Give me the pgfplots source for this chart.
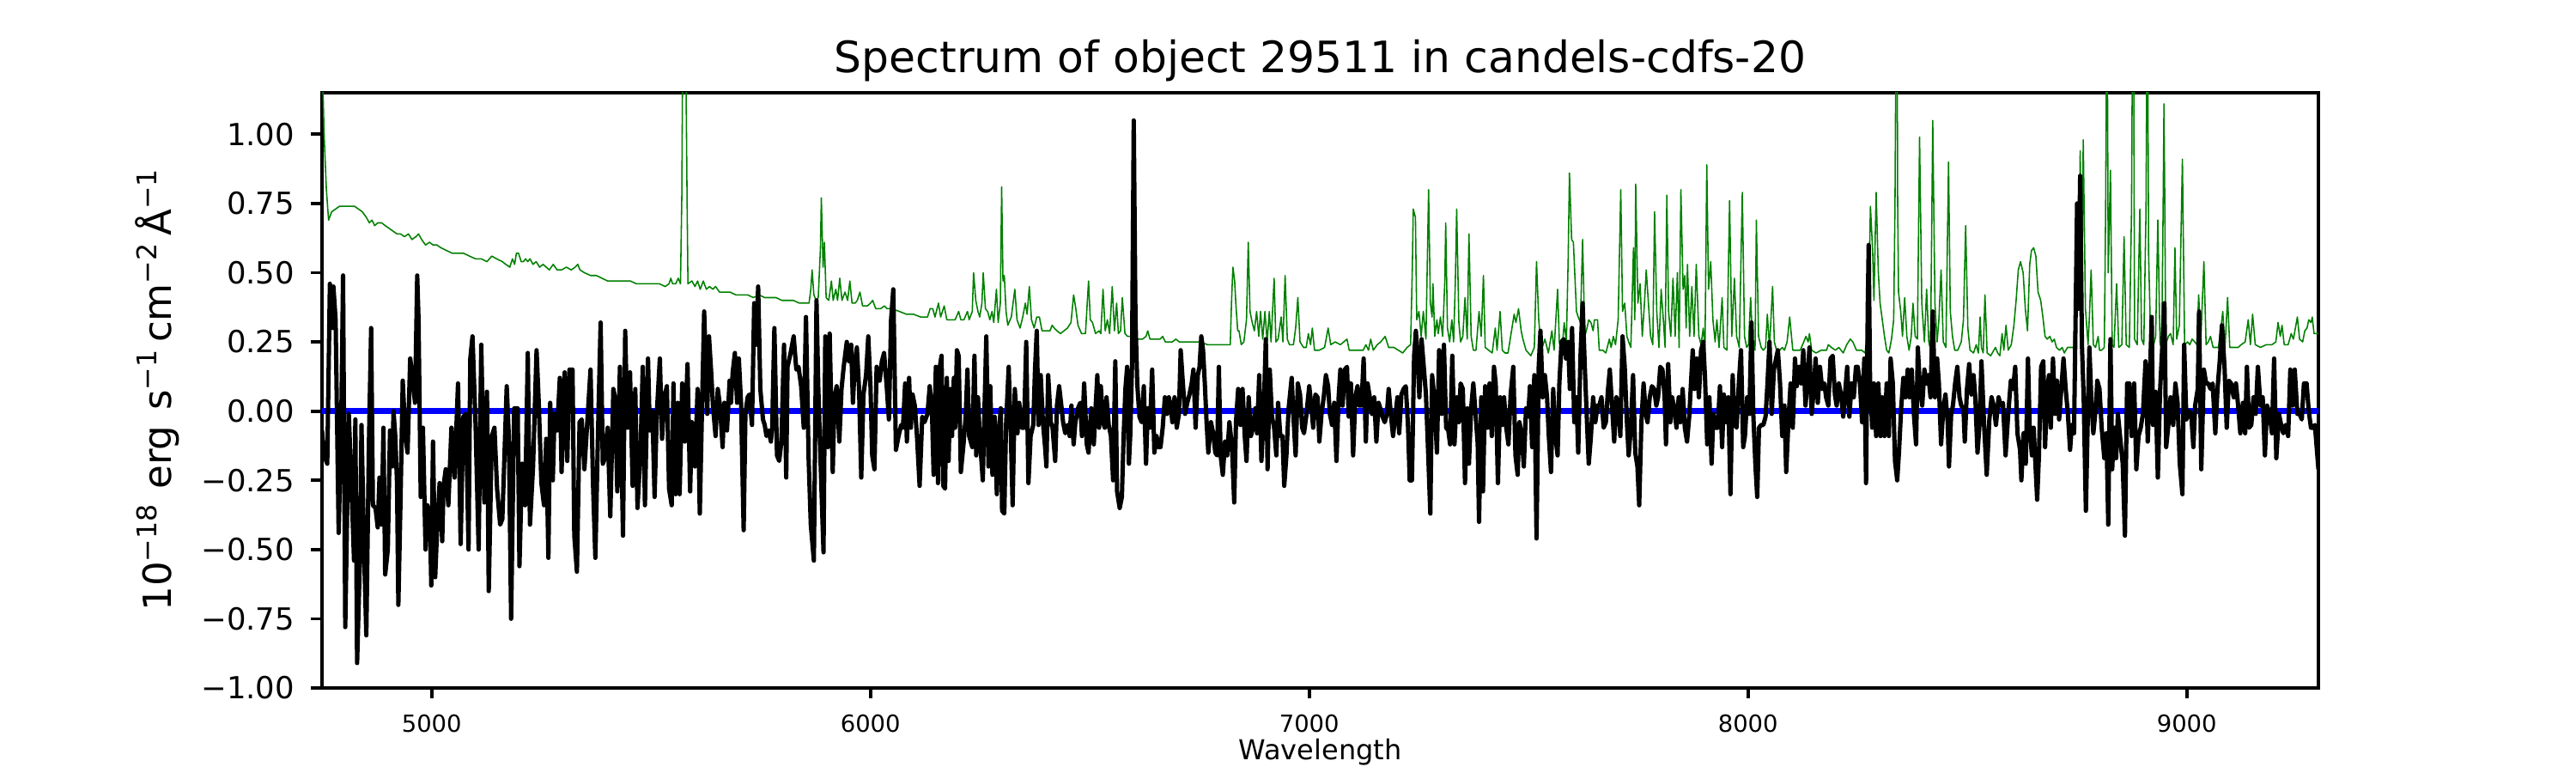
\documentclass[border=0pt]{standalone}
\usepackage{fontspec}
\setmainfont{DejaVu Sans}
\usepackage{pgfplots}
\usepackage{pgfplotstable}
\pgfplotsset{compat=1.18}
\newcommand{\sps}[1]{\raisebox{0.39em}{\fontsize{9.1}{10}\selectfont #1}}

\pgfplotstableread{
x y
4750 -0.07
4755 -0.16
4762 -0.19
4768 0.46
4774 0.30
4776 0.45
4781 0.33
4788 -0.44
4794 -0.03
4798 0.49
4803 -0.78
4811 -0.01
4817 -0.26
4823 -0.54
4826 -0.03
4830 -0.91
4836 -0.56
4840 -0.05
4846 -0.51
4851 -0.81
4857 -0.11
4862 0.30
4866 -0.34
4872 -0.35
4877 -0.42
4881 -0.24
4886 -0.41
4890 -0.06
4894 -0.59
4900 -0.50
4905 -0.07
4910 -0.20
4913 0.00
4917 -0.09
4921 -0.26
4924 -0.70
4929 -0.32
4934 0.11
4940 -0.09
4945 -0.15
4951 0.19
4955 0.14
4962 0.03
4967 0.49
4970 0.33
4975 -0.31
4980 -0.06
4986 -0.50
4990 -0.34
4996 -0.38
4999 -0.63
5003 -0.11
5008 -0.60
5012 -0.44
5018 -0.26
5024 -0.47
5027 -0.27
5032 -0.21
5038 -0.34
5045 -0.06
5052 -0.24
5060 0.10
5066 -0.48
5072 -0.02
5078 -0.01
5084 -0.50
5088 0.19
5093 0.27
5100 -0.05
5107 -0.50
5113 0.24
5120 -0.33
5126 0.07
5130 -0.65
5137 -0.09
5143 -0.06
5149 -0.28
5156 -0.41
5161 -0.39
5165 -0.20
5171 0.09
5176 -0.10
5181 -0.75
5188 0.01
5196 0.01
5200 -0.56
5206 -0.19
5213 -0.34
5219 0.21
5224 -0.41
5231 -0.20
5239 0.22
5244 0.03
5250 -0.26
5256 -0.34
5261 -0.10
5266 -0.53
5270 0.03
5276 -0.25
5280 -0.01
5286 -0.07
5292 0.12
5296 -0.22
5303 0.14
5309 -0.18
5314 0.15
5321 0.15
5325 -0.45
5331 -0.58
5337 -0.04
5342 -0.03
5348 -0.21
5355 -0.03
5362 0.15
5368 -0.28
5373 -0.53
5379 -0.08
5385 0.32
5390 -0.19
5395 -0.17
5401 -0.06
5407 -0.38
5414 0.08
5418 0.05
5423 -0.29
5429 0.16
5436 -0.45
5441 0.29
5446 -0.06
5452 0.14
5458 -0.27
5464 0.08
5469 -0.35
5476 -0.14
5481 0.16
5486 -0.34
5493 0.19
5497 -0.07
5503 0.00
5508 -0.31
5513 -0.01
5520 0.19
5525 -0.10
5530 0.05
5536 0.09
5541 -0.28
5547 -0.34
5551 0.10
5556 -0.30
5561 0.03
5565 -0.30
5571 0.10
5577 -0.11
5583 0.17
5589 -0.29
5593 -0.04
5600 -0.20
5606 0.08
5611 -0.37
5617 0.08
5621 0.36
5628 -0.01
5632 0.27
5637 0.14
5641 0.02
5647 -0.09
5652 0.08
5657 0.02
5663 -0.13
5667 0.03
5673 -0.07
5679 0.11
5682 0.03
5686 0.14
5691 0.21
5696 0.03
5700 0.19
5705 0.03
5711 -0.43
5715 -0.01
5720 0.05
5724 0.06
5730 -0.05
5735 0.39
5740 0.24
5744 0.45
5749 0.08
5755 -0.03
5759 -0.05
5763 -0.09
5768 -0.07
5773 -0.11
5776 -0.06
5781 0.30
5787 -0.16
5792 -0.18
5797 -0.11
5803 0.24
5808 -0.24
5811 0.16
5818 0.21
5825 0.27
5831 0.15
5836 0.16
5842 0.09
5848 -0.06
5853 0.34
5859 -0.17
5864 -0.41
5871 -0.54
5877 0.40
5881 0.09
5886 -0.17
5893 -0.51
5897 0.27
5903 -0.13
5907 0.28
5914 -0.22
5918 0.05
5923 0.09
5929 -0.11
5934 0.08
5939 0.16
5946 0.25
5951 0.18
5956 0.24
5960 0.03
5964 0.16
5969 0.23
5974 0.08
5979 -0.24
5984 0.06
5990 0.13
5995 0.27
6000 0.09
6004 -0.16
6009 -0.21
6014 0.16
6021 0.11
6026 0.18
6031 0.21
6037 0.09
6042 -0.03
6047 0.33
6052 0.44
6058 -0.14
6064 -0.09
6070 -0.05
6074 -0.06
6079 0.10
6083 -0.11
6088 0.12
6092 -0.06
6096 0.06
6101 0.02
6106 -0.09
6112 -0.27
6118 -0.02
6123 -0.04
6130 -0.01
6135 0.09
6140 0.01
6144 -0.23
6149 0.16
6154 -0.26
6158 0.16
6162 0.20
6166 -0.27
6170 -0.28
6174 0.12
6178 -0.18
6182 0.08
6186 -0.09
6190 0.12
6193 -0.06
6197 0.22
6201 0.20
6206 -0.22
6212 -0.12
6217 -0.02
6221 0.15
6225 -0.09
6232 -0.13
6237 0.20
6241 -0.16
6245 0.05
6249 -0.09
6256 -0.25
6259 -0.05
6264 0.27
6269 -0.20
6273 0.09
6278 -0.23
6283 -0.02
6288 -0.30
6292 -0.09
6297 0.01
6300 -0.36
6305 -0.37
6309 -0.05
6315 0.16
6320 -0.09
6324 -0.34
6329 0.08
6335 -0.08
6339 0.03
6345 -0.06
6350 -0.06
6355 0.25
6360 -0.26
6365 -0.09
6371 -0.05
6375 0.15
6379 0.29
6383 -0.05
6388 0.13
6393 -0.04
6398 -0.13
6401 -0.20
6405 0.13
6411 -0.04
6415 -0.06
6421 -0.18
6425 0.02
6430 0.09
6435 0.02
6439 -0.04
6444 -0.08
6449 -0.05
6454 -0.09
6458 0.02
6463 -0.12
6467 -0.04
6473 0.01
6478 0.03
6482 -0.09
6487 0.10
6493 -0.12
6497 -0.15
6503 0.01
6509 -0.12
6513 0.01
6517 0.13
6521 -0.06
6525 0.09
6530 -0.04
6534 -0.06
6538 0.05
6543 -0.05
6548 -0.09
6553 -0.25
6558 0.18
6562 -0.29
6568 -0.35
6573 -0.31
6577 -0.09
6581 0.08
6585 0.16
6589 -0.19
6592 -0.09
6596 0.16
6600 1.05
6604 0.33
6608 0.10
6613 -0.02
6618 -0.04
6623 0.09
6628 -0.19
6632 0.01
6637 -0.06
6642 0.15
6647 -0.15
6652 -0.09
6656 -0.13
6661 -0.13
6666 -0.06
6671 0.05
6676 -0.01
6680 0.05
6685 0.01
6688 -0.04
6693 0.05
6698 -0.06
6703 -0.01
6707 0.22
6712 0.10
6717 -0.01
6722 0.03
6727 0.06
6732 0.10
6736 0.15
6741 -0.06
6746 0.13
6750 0.16
6754 0.27
6758 0.22
6762 0.10
6766 -0.04
6770 -0.15
6776 -0.04
6781 -0.08
6786 -0.15
6790 -0.16
6794 0.16
6798 -0.16
6803 -0.23
6808 -0.11
6813 -0.16
6818 -0.04
6824 -0.13
6829 -0.33
6833 -0.04
6838 0.08
6843 -0.05
6848 0.08
6853 -0.09
6857 -0.18
6862 0.05
6867 -0.09
6872 -0.06
6877 0.01
6881 -0.08
6886 0.13
6891 -0.18
6896 -0.02
6901 0.26
6905 -0.21
6910 0.15
6915 -0.02
6920 -0.06
6925 -0.16
6929 0.03
6934 -0.09
6939 -0.09
6943 -0.27
6948 -0.16
6953 0.01
6960 0.12
6964 -0.02
6969 -0.16
6974 0.10
6979 0.06
6984 -0.06
6988 -0.08
6993 -0.02
7000 0.09
7004 0.03
7009 -0.06
7014 0.06
7019 0.05
7023 -0.11
7028 -0.01
7033 0.05
7038 0.13
7043 0.09
7047 -0.01
7052 -0.05
7057 0.03
7062 -0.18
7067 0.05
7071 0.15
7076 0.02
7081 0.15
7086 0.16
7090 -0.02
7095 0.10
7100 -0.16
7105 0.05
7110 0.09
7114 0.02
7119 0.02
7124 0.19
7129 -0.11
7133 0.10
7138 0.05
7143 -0.01
7148 0.05
7153 -0.11
7158 0.03
7162 0.01
7167 -0.02
7172 -0.04
7177 -0.01
7181 0.08
7186 -0.01
7191 -0.09
7196 -0.02
7201 0.05
7205 -0.08
7210 0.06
7215 0.08
7220 0.09
7225 -0.05
7229 -0.25
7234 -0.25
7239 0.20
7243 0.29
7247 0.19
7251 0.05
7256 0.26
7261 0.16
7266 0.06
7271 -0.15
7276 -0.37
7280 0.13
7285 0.05
7291 -0.15
7296 0.22
7302 -0.01
7307 0.24
7312 -0.06
7317 -0.07
7321 -0.12
7326 0.20
7331 -0.12
7336 0.05
7341 -0.04
7345 0.10
7350 0.08
7355 -0.26
7360 0.01
7364 -0.19
7369 0.01
7374 0.10
7379 -0.01
7384 -0.12
7387 -0.40
7392 0.05
7396 -0.29
7401 0.09
7406 -0.06
7411 0.10
7416 -0.09
7421 0.16
7425 0.10
7430 -0.26
7435 0.05
7440 -0.05
7444 0.05
7449 -0.06
7454 -0.12
7459 0.06
7465 0.16
7470 -0.16
7475 -0.23
7479 -0.04
7484 -0.08
7489 -0.20
7494 0.01
7499 -0.02
7503 0.09
7508 -0.13
7513 0.13
7518 -0.46
7523 0.16
7527 0.29
7532 0.05
7537 0.13
7542 0.05
7546 -0.09
7551 -0.22
7556 0.08
7561 -0.09
7566 -0.16
7570 0.10
7575 0.25
7580 0.26
7585 0.19
7590 0.25
7594 0.08
7599 0.30
7604 -0.04
7609 0.05
7613 -0.15
7618 0.19
7623 0.39
7628 0.16
7633 -0.04
7637 -0.19
7642 -0.09
7647 0.05
7652 -0.04
7657 0.02
7661 0.02
7666 0.05
7671 -0.06
7676 -0.04
7681 0.08
7685 0.15
7690 0.02
7695 -0.11
7700 0.05
7704 0.03
7709 -0.09
7714 0.27
7719 0.16
7724 -0.04
7728 -0.16
7733 -0.06
7738 0.13
7743 -0.15
7748 -0.20
7752 -0.34
7757 -0.04
7762 0.10
7767 -0.01
7771 -0.04
7776 0.05
7781 0.09
7786 0.08
7791 0.02
7795 0.05
7800 0.16
7805 0.15
7810 0.05
7813 -0.12
7818 0.17
7823 -0.04
7827 0.05
7832 0.01
7837 -0.06
7842 0.05
7846 -0.04
7851 0.08
7856 -0.06
7861 -0.11
7866 -0.02
7870 0.10
7874 0.22
7878 0.08
7883 0.19
7888 0.05
7893 0.22
7898 0.25
7902 0.12
7907 -0.12
7912 0.05
7917 -0.19
7921 -0.01
7926 -0.06
7931 -0.06
7936 0.09
7941 -0.13
7945 0.06
7950 -0.04
7955 0.05
7960 -0.30
7965 0.13
7969 -0.04
7974 -0.06
7979 0.10
7984 0.22
7989 -0.13
7993 -0.09
7998 0.05
8003 -0.01
8008 0.32
8012 -0.01
8017 -0.20
8021 -0.31
8025 -0.06
8030 -0.05
8035 -0.05
8040 -0.02
8044 0.09
8049 0.25
8054 -0.01
8059 0.15
8064 0.19
8068 0.22
8073 0.10
8078 -0.09
8083 0.02
8087 -0.22
8092 -0.04
8097 0.10
8102 -0.06
8107 0.19
8111 0.09
8116 0.16
8121 0.10
8126 0.22
8131 0.02
8135 0.10
8140 0.23
8145 -0.01
8150 0.08
8154 0.19
8159 0.03
8164 0.16
8169 0.08
8174 0.10
8178 0.05
8183 0.02
8188 0.19
8193 0.20
8198 0.06
8202 0.02
8207 0.10
8212 0.06
8217 -0.02
8222 0.08
8226 0.16
8231 -0.02
8236 0.10
8241 0.05
8246 0.16
8250 0.16
8255 0.10
8260 -0.04
8265 0.19
8269 -0.26
8273 0.39
8275 0.60
8278 0.12
8283 -0.06
8287 0.10
8292 -0.09
8297 0.10
8302 -0.09
8306 0.05
8311 -0.09
8316 0.10
8321 -0.09
8325 0.19
8330 0.10
8335 -0.18
8340 -0.25
8344 -0.15
8349 0.01
8354 0.12
8359 0.05
8364 0.15
8368 0.05
8373 0.15
8378 -0.01
8383 -0.12
8387 0.23
8392 0.08
8397 0.02
8402 0.15
8407 0.10
8411 0.13
8416 0.05
8421 0.36
8426 0.05
8431 0.19
8435 0.10
8440 -0.12
8445 0.01
8450 0.06
8455 -0.04
8458 -0.20
8463 -0.01
8467 0.02
8472 0.10
8477 0.16
8482 0.05
8486 0.02
8491 0.01
8494 -0.11
8499 0.08
8504 0.17
8509 0.06
8514 0.13
8518 0.05
8523 -0.15
8528 -0.04
8532 0.18
8538 -0.05
8544 -0.23
8550 -0.03
8555 0.05
8560 0.02
8565 -0.05
8571 0.05
8576 0.02
8581 0.03
8587 -0.16
8593 -0.01
8599 0.11
8604 0.08
8609 0.16
8614 -0.08
8620 -0.14
8623 -0.25
8628 -0.08
8633 -0.19
8638 0.19
8642 -0.06
8647 -0.16
8651 -0.06
8655 -0.19
8659 -0.32
8663 -0.16
8668 0.16
8673 0.18
8677 -0.13
8682 0.08
8686 0.13
8690 -0.06
8695 0.19
8700 -0.01
8704 0.11
8709 -0.03
8714 0.08
8719 0.19
8724 0.08
8729 -0.01
8734 -0.14
8738 -0.05
8743 -0.08
8747 0.39
8750 0.75
8753 0.37
8757 0.85
8761 0.24
8765 0.05
8770 -0.36
8774 -0.05
8778 0.23
8783 0.02
8787 -0.08
8793 0.02
8796 0.11
8801 0.08
8806 -0.06
8812 -0.17
8817 -0.08
8821 -0.41
8826 0.26
8830 -0.21
8834 -0.06
8839 -0.17
8843 -0.01
8849 -0.11
8854 -0.19
8859 -0.45
8864 0.10
8869 0.10
8874 -0.09
8880 0.10
8885 -0.21
8890 -0.09
8895 -0.06
8900 -0.01
8906 0.18
8911 -0.11
8915 0.07
8920 0.34
8923 -0.05
8929 0.07
8934 -0.24
8939 0.07
8944 0.23
8949 0.39
8953 -0.13
8958 -0.05
8963 0.05
8969 -0.05
8974 0.10
8979 0.03
8984 -0.19
8990 -0.30
8994 0.24
8999 -0.03
9005 0.00
9010 -0.01
9015 -0.13
9019 0.02
9025 0.08
9028 0.36
9033 -0.21
9039 0.15
9044 0.10
9049 0.10
9054 0.08
9059 0.10
9065 -0.08
9070 0.08
9075 0.18
9080 0.31
9086 0.16
9091 -0.06
9096 0.11
9101 0.10
9107 0.05
9112 0.10
9117 0.02
9122 -0.08
9128 0.03
9133 -0.08
9137 0.16
9142 -0.06
9147 -0.05
9152 0.05
9157 -0.01
9162 0.16
9168 0.02
9173 0.05
9178 -0.16
9183 0.02
9189 -0.01
9194 -0.08
9199 0.19
9204 -0.17
9210 -0.01
9215 -0.05
9220 -0.08
9225 -0.05
9231 -0.09
9236 0.15
9241 0.02
9246 0.15
9252 -0.01
9257 -0.01
9262 -0.03
9267 0.10
9273 0.10
9278 0.00
9283 -0.06
9288 -0.06
9292 -0.05
9300 -0.21
}\fluxtable

\pgfplotstableread{
x y
4750 1.30
4755 0.99
4760 0.80
4765 0.69
4772 0.72
4781 0.73
4790 0.74
4798 0.74
4807 0.74
4816 0.74
4824 0.74
4833 0.73
4842 0.72
4851 0.70
4858 0.68
4864 0.69
4870 0.67
4877 0.68
4886 0.68
4894 0.67
4903 0.66
4912 0.65
4921 0.64
4929 0.64
4938 0.63
4947 0.64
4955 0.62
4964 0.63
4970 0.64
4977 0.62
4986 0.60
4995 0.61
5003 0.60
5012 0.60
5021 0.59
5034 0.58
5047 0.57
5060 0.57
5073 0.57
5086 0.56
5100 0.55
5113 0.55
5126 0.54
5137 0.56
5148 0.55
5161 0.54
5169 0.53
5178 0.52
5184 0.55
5189 0.53
5193 0.57
5198 0.57
5204 0.54
5209 0.54
5214 0.55
5219 0.54
5224 0.55
5231 0.53
5238 0.54
5246 0.52
5254 0.53
5261 0.52
5268 0.51
5277 0.53
5286 0.51
5296 0.51
5307 0.52
5318 0.51
5327 0.52
5333 0.53
5338 0.51
5348 0.50
5362 0.49
5375 0.49
5388 0.48
5401 0.47
5414 0.47
5427 0.47
5440 0.47
5453 0.47
5466 0.46
5479 0.46
5493 0.46
5506 0.46
5519 0.46
5532 0.45
5541 0.46
5545 0.48
5549 0.46
5556 0.46
5562 0.48
5567 0.46
5570 0.77
5572 1.30
5579 1.30
5582 0.77
5584 0.46
5593 0.47
5600 0.45
5606 0.47
5612 0.44
5619 0.47
5626 0.44
5633 0.45
5641 0.44
5647 0.45
5656 0.43
5667 0.43
5680 0.43
5693 0.42
5707 0.42
5720 0.42
5733 0.41
5746 0.42
5759 0.41
5772 0.41
5785 0.41
5798 0.40
5811 0.40
5824 0.40
5838 0.39
5851 0.39
5860 0.39
5864 0.44
5867 0.51
5871 0.42
5876 0.40
5881 0.41
5886 0.59
5888 0.77
5892 0.52
5895 0.61
5899 0.41
5905 0.40
5911 0.47
5915 0.40
5921 0.44
5925 0.40
5930 0.48
5935 0.40
5942 0.43
5948 0.40
5953 0.47
5958 0.39
5965 0.39
5970 0.40
5976 0.43
5982 0.38
5993 0.38
6000 0.39
6005 0.40
6012 0.37
6023 0.37
6032 0.38
6038 0.37
6049 0.37
6066 0.36
6082 0.35
6098 0.35
6114 0.34
6130 0.34
6136 0.37
6142 0.37
6147 0.34
6155 0.39
6160 0.34
6168 0.38
6174 0.33
6185 0.33
6193 0.33
6201 0.36
6206 0.33
6213 0.33
6221 0.36
6225 0.33
6232 0.36
6235 0.50
6240 0.40
6245 0.36
6249 0.34
6254 0.39
6257 0.50
6262 0.37
6267 0.36
6272 0.33
6277 0.36
6281 0.32
6287 0.44
6291 0.32
6296 0.39
6299 0.81
6302 0.47
6305 0.49
6309 0.36
6313 0.31
6321 0.34
6329 0.44
6334 0.33
6341 0.30
6347 0.34
6353 0.39
6357 0.35
6362 0.45
6367 0.33
6373 0.30
6379 0.34
6385 0.34
6391 0.29
6401 0.29
6409 0.29
6414 0.31
6419 0.30
6425 0.29
6433 0.28
6441 0.29
6449 0.30
6457 0.32
6463 0.42
6468 0.37
6473 0.31
6481 0.28
6490 0.28
6497 0.47
6501 0.33
6506 0.32
6513 0.28
6521 0.29
6525 0.28
6530 0.44
6535 0.29
6540 0.33
6545 0.28
6551 0.45
6556 0.29
6561 0.39
6565 0.28
6570 0.29
6574 0.41
6580 0.28
6586 0.27
6594 0.27
6608 0.26
6620 0.26
6628 0.27
6632 0.29
6637 0.26
6648 0.26
6660 0.26
6666 0.27
6672 0.25
6688 0.25
6696 0.26
6704 0.25
6720 0.25
6736 0.25
6752 0.25
6768 0.24
6784 0.24
6804 0.24
6820 0.24
6823 0.40
6826 0.52
6830 0.47
6833 0.38
6837 0.29
6840 0.29
6845 0.24
6851 0.25
6857 0.33
6861 0.61
6865 0.36
6870 0.32
6875 0.29
6880 0.36
6885 0.27
6889 0.36
6894 0.26
6899 0.36
6904 0.25
6909 0.36
6913 0.25
6920 0.48
6924 0.25
6929 0.26
6936 0.34
6940 0.25
6945 0.49
6950 0.26
6955 0.24
6964 0.24
6969 0.30
6974 0.41
6979 0.25
6987 0.23
6993 0.23
6998 0.28
7003 0.24
7007 0.30
7012 0.22
7023 0.22
7035 0.23
7043 0.30
7049 0.24
7059 0.25
7071 0.24
7086 0.26
7091 0.22
7103 0.22
7115 0.22
7123 0.22
7129 0.24
7135 0.22
7140 0.26
7146 0.22
7155 0.24
7163 0.25
7173 0.27
7181 0.23
7193 0.23
7203 0.22
7213 0.21
7223 0.23
7231 0.24
7235 0.52
7237 0.73
7242 0.70
7245 0.33
7250 0.36
7255 0.27
7260 0.36
7266 0.26
7272 0.80
7276 0.39
7280 0.34
7282 0.46
7286 0.27
7291 0.33
7294 0.28
7299 0.34
7304 0.27
7309 0.47
7311 0.68
7315 0.30
7320 0.25
7325 0.33
7329 0.25
7333 0.47
7336 0.73
7341 0.32
7345 0.25
7350 0.27
7355 0.41
7360 0.26
7364 0.64
7369 0.27
7374 0.22
7380 0.22
7387 0.36
7392 0.27
7397 0.49
7401 0.23
7409 0.22
7417 0.21
7424 0.30
7428 0.22
7435 0.36
7440 0.22
7446 0.21
7453 0.21
7461 0.29
7467 0.35
7471 0.32
7477 0.37
7483 0.29
7487 0.26
7494 0.22
7505 0.20
7513 0.23
7518 0.54
7523 0.33
7529 0.22
7537 0.26
7545 0.21
7553 0.29
7558 0.22
7566 0.44
7570 0.25
7575 0.20
7581 0.32
7586 0.25
7590 0.54
7593 0.86
7598 0.62
7602 0.61
7609 0.36
7613 0.34
7618 0.32
7623 0.62
7628 0.27
7633 0.30
7637 0.33
7642 0.32
7647 0.29
7650 0.33
7657 0.33
7661 0.22
7669 0.22
7676 0.21
7684 0.26
7688 0.23
7693 0.27
7698 0.24
7704 0.33
7710 0.80
7714 0.36
7719 0.39
7724 0.27
7728 0.25
7733 0.23
7739 0.59
7742 0.33
7744 0.82
7749 0.39
7754 0.46
7759 0.27
7764 0.39
7768 0.51
7773 0.39
7778 0.27
7783 0.24
7787 0.72
7792 0.36
7797 0.23
7802 0.44
7807 0.33
7811 0.23
7815 0.78
7819 0.36
7824 0.27
7829 0.48
7834 0.27
7839 0.50
7843 0.23
7847 0.80
7852 0.44
7856 0.49
7859 0.30
7862 0.53
7867 0.27
7872 0.45
7877 0.27
7882 0.53
7888 0.27
7893 0.24
7898 0.30
7902 0.23
7906 0.89
7910 0.44
7915 0.54
7920 0.33
7925 0.25
7929 0.33
7934 0.23
7941 0.41
7945 0.23
7952 0.22
7958 0.76
7963 0.27
7969 0.48
7974 0.27
7980 0.23
7987 0.79
7992 0.27
7997 0.23
8001 0.24
8006 0.41
8011 0.23
8016 0.22
8019 0.69
8024 0.27
8030 0.23
8035 0.22
8040 0.23
8044 0.35
8049 0.23
8056 0.45
8060 0.25
8065 0.22
8072 0.22
8078 0.23
8083 0.22
8089 0.25
8095 0.34
8102 0.22
8111 0.22
8119 0.22
8127 0.25
8132 0.27
8137 0.25
8140 0.28
8145 0.22
8155 0.21
8167 0.22
8179 0.22
8183 0.24
8190 0.23
8199 0.22
8207 0.23
8217 0.21
8225 0.24
8233 0.26
8239 0.25
8247 0.22
8259 0.22
8267 0.21
8274 0.33
8279 0.74
8284 0.58
8287 0.40
8292 0.79
8297 0.50
8301 0.39
8306 0.33
8311 0.27
8316 0.22
8321 0.21
8327 0.26
8332 0.33
8335 0.75
8337 1.30
8340 1.30
8341 0.75
8343 0.43
8348 0.36
8352 0.27
8357 0.41
8362 0.27
8367 0.22
8372 0.27
8376 0.39
8381 0.27
8386 0.26
8391 0.99
8396 0.39
8402 0.25
8407 0.44
8412 0.25
8416 0.22
8421 1.05
8426 0.39
8431 0.25
8435 0.33
8440 0.51
8445 0.25
8451 0.23
8457 0.90
8461 0.36
8466 0.27
8471 0.22
8478 0.22
8486 0.25
8491 0.33
8496 0.67
8501 0.30
8506 0.22
8514 0.21
8520 0.24
8525 0.21
8529 0.34
8532 0.23
8536 0.21
8540 0.42
8545 0.21
8553 0.20
8564 0.23
8569 0.21
8574 0.20
8579 0.28
8583 0.22
8588 0.31
8593 0.22
8600 0.24
8606 0.31
8611 0.40
8616 0.51
8621 0.54
8627 0.50
8632 0.37
8637 0.29
8642 0.53
8646 0.58
8651 0.59
8656 0.56
8661 0.43
8667 0.40
8672 0.34
8677 0.27
8682 0.26
8688 0.27
8693 0.25
8698 0.26
8703 0.23
8710 0.22
8716 0.23
8721 0.21
8728 0.23
8735 0.23
8742 0.23
8747 0.40
8752 0.75
8755 0.48
8757 0.94
8761 0.40
8764 0.98
8769 0.37
8775 0.24
8778 0.34
8782 0.51
8787 0.24
8792 0.23
8798 0.27
8801 0.22
8806 0.22
8812 0.23
8815 0.72
8817 1.30
8819 1.30
8821 0.50
8824 0.72
8826 0.87
8830 0.24
8834 0.23
8840 0.46
8845 0.23
8852 0.24
8857 0.63
8862 0.24
8869 0.23
8874 0.72
8876 1.30
8879 1.30
8881 0.26
8887 0.24
8893 0.73
8897 0.26
8902 0.24
8907 0.72
8909 1.30
8911 1.30
8913 0.56
8918 0.24
8923 0.23
8929 0.27
8934 0.69
8939 0.24
8943 0.27
8946 0.72
8948 1.11
8950 0.72
8952 0.24
8958 0.27
8963 0.28
8969 0.24
8973 0.59
8977 0.26
8983 0.31
8990 0.91
8995 0.24
9002 0.25
9007 0.24
9012 0.26
9018 0.25
9023 0.24
9027 0.42
9032 0.26
9039 0.54
9044 0.24
9049 0.25
9054 0.27
9060 0.23
9066 0.23
9072 0.23
9077 0.29
9082 0.36
9087 0.23
9093 0.41
9098 0.23
9107 0.23
9117 0.23
9124 0.24
9133 0.25
9140 0.33
9145 0.24
9150 0.35
9156 0.24
9168 0.23
9181 0.24
9194 0.24
9203 0.25
9208 0.32
9213 0.27
9217 0.31
9222 0.24
9231 0.24
9238 0.28
9243 0.26
9252 0.34
9257 0.26
9264 0.25
9269 0.29
9274 0.30
9278 0.33
9283 0.32
9286 0.34
9290 0.28
9300 0.28
}\errtable

\begin{document}
\begin{tikzpicture}
\path[use as bounding box] (0,0) rectangle (864pt,259.2pt);
\begin{axis}[
  at={(108pt,28.512pt)}, anchor=south west,
  scale only axis, width=669.6pt, height=199.584pt,
  xmin=4750, xmax=9300, ymin=-1.0, ymax=1.15,
  axis line style={line width=1.1pt},
  tick align=outside, xtick pos=bottom, ytick pos=left,
  major tick length=3.6pt,
  every tick/.style={black, line width=1.1pt},
  xtick={5000,6000,7000,8000,9000},
  xticklabels={5000,6000,7000,8000,9000},
  ytick={-1,-0.75,-0.5,-0.25,0,0.25,0.5,0.75,1},
  yticklabels={−1.00,−0.75,−0.50,−0.25,0.00,0.25,0.50,0.75,1.00},
  xticklabel style={font=\fontsize{7.9}{9}\selectfont, anchor=north, inner sep=0pt},
  yticklabel style={font=\fontsize{10.2}{12}\selectfont, anchor=east, inner sep=0pt},
  xticklabel shift=5.3pt, yticklabel shift=5.4pt,
  xlabel={Wavelength},
  xlabel style={at={(axis description cs:0.5,-0.1198)}, anchor=base, inner sep=0pt, font=\fontsize{9.2}{11}\selectfont},
  ylabel={10\sps{−18}\hspace{1pt} erg\hspace{1pt} s\sps{−1}\hspace{2.5pt}cm\sps{−2}\hspace{2.5pt}Å\sps{−1}},
  ylabel style={at={(axis description cs:-0.07527,0.5)}, anchor=base, rotate=0, inner sep=0pt, font=\fontsize{13}{15}\selectfont},
]
\addplot[color={rgb,1:red,0;green,0;blue,1}, line width=1.9pt] coordinates {(4750,0) (9300,0)};
\addplot[color={rgb,1:red,0;green,0.5;blue,0}, line width=0.45pt, line join=round] table[x=x,y=y] {\errtable};
\addplot[black, line width=1.45pt, line join=round] table[x=x,y=y] {\fluxtable};
\end{axis}
\node[anchor=base, inner sep=0pt, font=\fontsize{14.5}{17}\selectfont] at (442.8pt,235.0pt) {Spectrum of object 29511 in candels-cdfs-20};
\end{tikzpicture}
\end{document}
